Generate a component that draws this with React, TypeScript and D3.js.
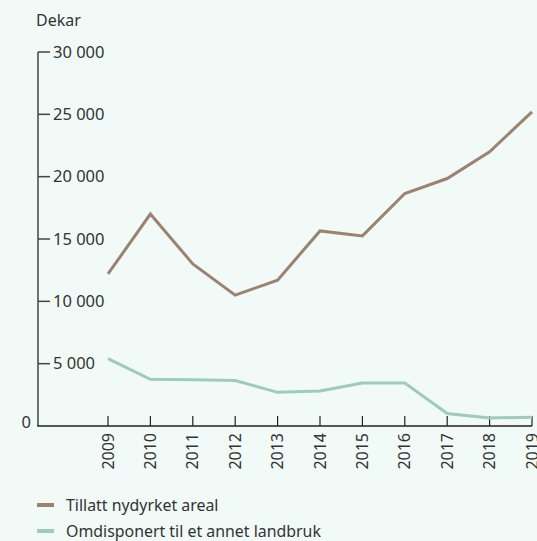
import React from "react";
import * as d3 from "d3";

const years = [2009, 2010, 2011, 2012, 2013, 2014, 2015, 2016, 2017, 2018, 2019];
const nydyrket = [12200, 17000, 13000, 10500, 11700, 15650, 15250, 18650, 19850, 22000, 25200];
const omdisponert = [5400, 3750, 3700, 3650, 2700, 2800, 3450, 3450, 1000, 650, 700];
const yTicks = [5000, 10000, 15000, 20000, 25000, 30000];
const seriesNames = ["Tillatt nydyrket areal", "Omdisponert til et annet landbruk"];
const seriesColors = ["#9c8370", "#9ecbba"];

const W = 537;
const H = 541;
const FONT = "'Noto Sans', sans-serif";
const TEXT = "#333";

export default function App() {
  const x = d3.scaleLinear().domain([2009, 2019]).range([108, 532]);
  const y = d3.scaleLinear().domain([0, 30000]).range([426, 52]);
  const fmt = (v: number) => d3.format(",")(v).replace(/,/g, " ");
  const line = d3
    .line<number>()
    .x((_, i) => x(years[i]))
    .y((d) => y(d));
  const series = [nydyrket, omdisponert];

  return (
    <svg
      width={W}
      height={H}
      style={{ position: "absolute", left: 0, top: 0, background: "#f1faf7" }}
      fontFamily={FONT}
    >
      <rect x={0} y={0} width={W} height={H} fill="#f1faf7" />
      <text x={36} y={26} fontSize={16} fill={TEXT}>
        Dekar
      </text>
      {/* y axis */}
      <line x1={38} x2={38} y1={y(30000)} y2={y(0)} stroke="#444" strokeWidth={1.5} />
      {yTicks.map((t) => (
        <g key={t}>
          <line x1={38} x2={50} y1={y(t)} y2={y(t)} stroke="#444" strokeWidth={1.5} />
          <text x={53} y={y(t)} dy="0.35em" fontSize={16.5} fill={TEXT}>
            {fmt(t)}
          </text>
        </g>
      ))}
      <text x={31} y={y(0)} dy="0.1em" fontSize={16.5} fill={TEXT} textAnchor="end">
        0
      </text>
      {/* x axis */}
      <line x1={37.25} x2={x(2019)} y1={y(0)} y2={y(0)} stroke="#222" strokeWidth={1.5} />
      {years.map((yr) => (
        <g key={yr}>
          <line x1={x(yr)} x2={x(yr)} y1={y(0) - 10} y2={y(0)} stroke="#222" strokeWidth={1.2} />
          <text
            transform={`translate(${x(yr)},${y(0) + 7}) rotate(-90)`}
            textAnchor="end"
            dy="0.35em"
            fontSize={16}
            fill={TEXT}
          >
            {yr}
          </text>
        </g>
      ))}
      {series.map((s, i) => (
        <path
          key={i}
          d={line(s) || ""}
          fill="none"
          stroke={seriesColors[i]}
          strokeWidth={3}
          strokeLinejoin="miter"
        />
      ))}
      {/* legend */}
      {seriesNames.map((n, i) => (
        <g key={n}>
          <line x1={37} x2={54} y1={505 + i * 26} y2={505 + i * 26} stroke={seriesColors[i]} strokeWidth={4} />
          <text x={66} y={505 + i * 26} dy="0.35em" fontSize={15.9} fill={TEXT}>
            {n}
          </text>
        </g>
      ))}
    </svg>
  );
}
